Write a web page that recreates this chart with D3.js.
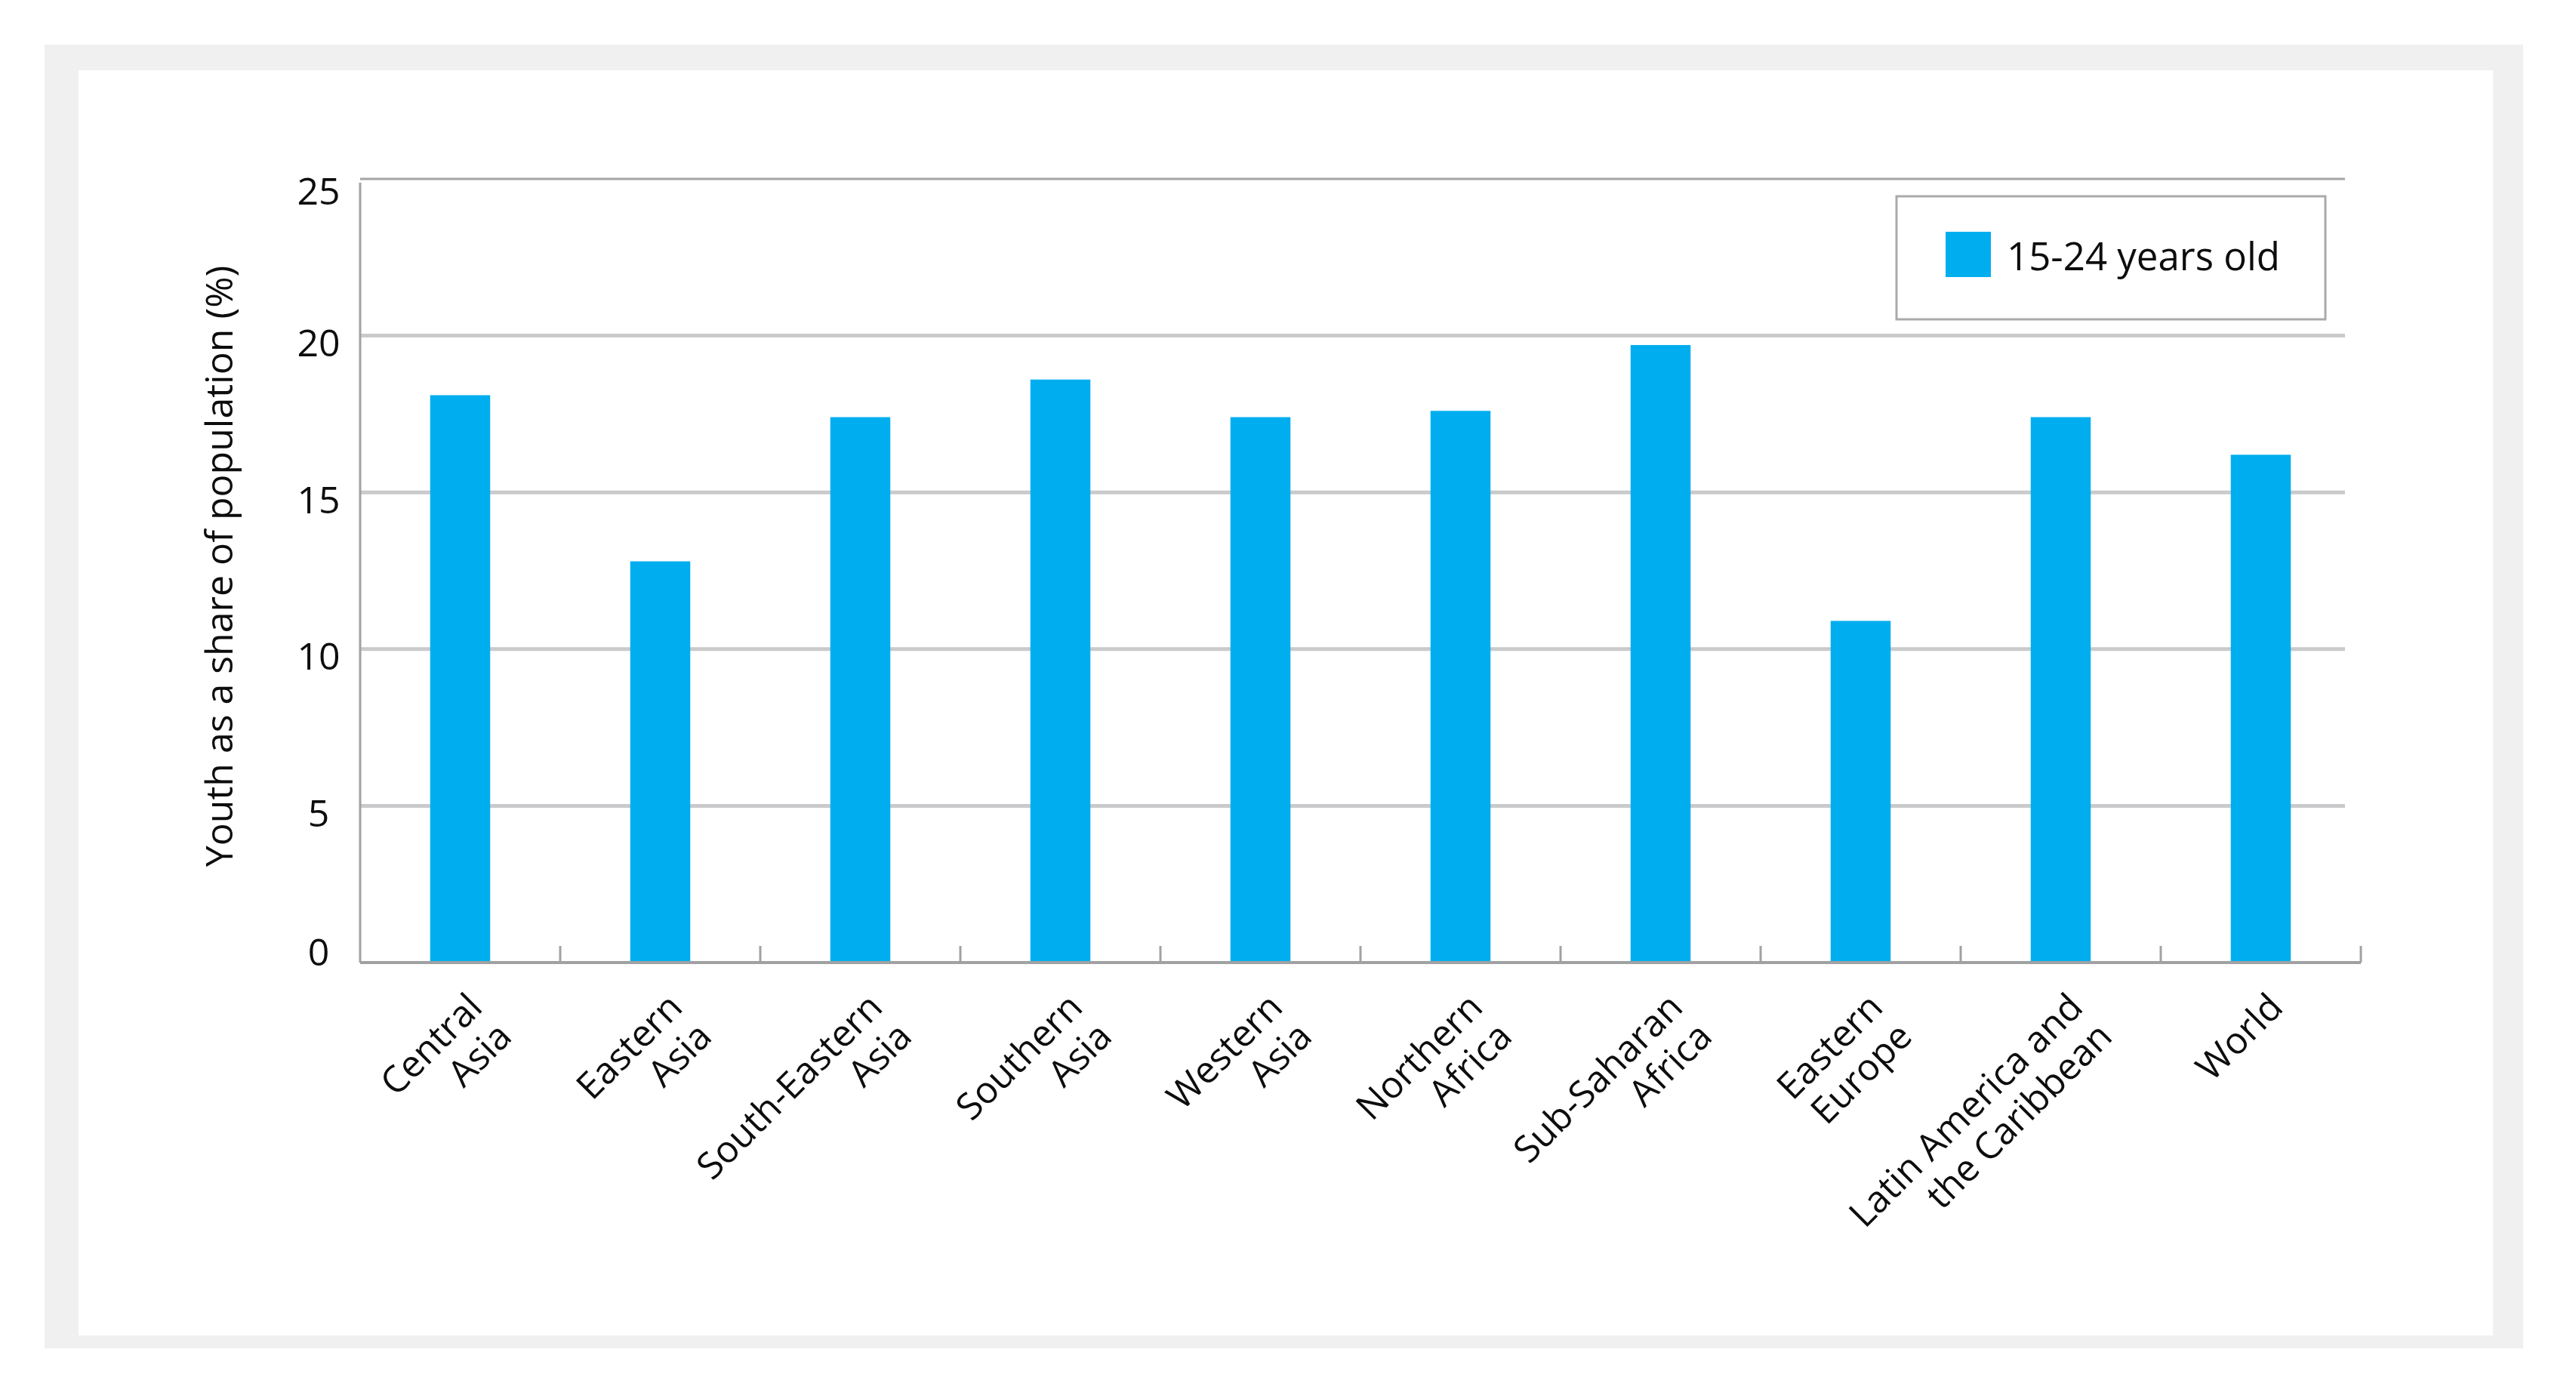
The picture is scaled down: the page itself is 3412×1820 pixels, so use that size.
<!DOCTYPE html>
<html>
<head>
<meta charset="utf-8">
<script src="https://cdn.jsdelivr.net/npm/d3@7"></script>
<style>
  html, body { margin: 0; padding: 0; background: #ffffff; }
  svg { display: block; }
</style>
</head>
<body>
<svg id="chart" width="3412" height="1820"></svg>
<script>
// ---- data ----
const categories = [
  "Central Asia", "Eastern Asia", "South-Eastern Asia", "Southern Asia",
  "Western Asia", "Northern Africa", "Sub-Saharan Africa", "Eastern Europe",
  "Latin America and the Caribbean", "World"
];
const categoryLines = [
  ["Central", "Asia"], ["Eastern", "Asia"], ["South-Eastern", "Asia"],
  ["Southern", "Asia"], ["Western", "Asia"], ["Northern", "Africa"],
  ["Sub-Saharan", "Africa"], ["Eastern", "Europe"],
  ["Latin America and", "the Caribbean"], ["World"]
];
const youthShare = [18.1, 12.8, 17.4, 18.6, 17.4, 17.6, 19.7, 10.9, 17.4, 16.2];
const seriesName = "15-24 years old";
const yTicks = [0, 5, 10, 15, 20, 25];
const yTitle = "Youth as a share of population (%)";

// ---- layout ----
const svg = d3.select("#chart");
const FONT = "'Open Sans', 'DejaVu Sans', sans-serif";
const BAR = "#00AEEF";
const TXT = "#0d0d0d";

// page frame
svg.append("rect").attr("x", 59).attr("y", 59).attr("width", 3342 - 59).attr("height", 1786 - 59).attr("fill", "#f0f0f0");
svg.append("rect").attr("x", 104).attr("y", 93).attr("width", 3302 - 104).attr("height", 1769 - 93).attr("fill", "#ffffff");

const x0 = 477, x1 = 3127, gridEnd = 3106;
const x = d3.scaleBand().domain(categories).range([x0, x1]).paddingInner(0.7).paddingOuter(0.35);
const y = d3.scaleLinear().domain([0, 25]).range([1275, 237]);

// gridlines
svg.append("g").selectAll("line.grid").data(yTicks.filter(d => d > 0)).join("line")
  .attr("class", "grid")
  .attr("x1", x0).attr("x2", gridEnd)
  .attr("y1", d => y(d)).attr("y2", d => y(d))
  .attr("stroke", d => d === 25 ? "#a3a4a6" : "#c9cacc")
  .attr("stroke-width", d => d === 25 ? 3 : 5);

// bars
svg.append("g").selectAll("rect").data(categories).join("rect")
  .attr("x", d => x(d))
  .attr("width", x.bandwidth())
  .attr("y", (d, i) => y(youthShare[i]))
  .attr("height", (d, i) => y(0) - y(youthShare[i]))
  .attr("fill", BAR);

// y axis line
svg.append("line").attr("x1", x0).attr("x2", x0).attr("y1", y(25) + 5).attr("y2", y(0))
  .attr("stroke", "#a0a1a3").attr("stroke-width", 3);

// baseline + ticks
svg.append("line").attr("x1", x0).attr("x2", x1).attr("y1", y(0)).attr("y2", y(0))
  .attr("stroke", "#a0a1a3").attr("stroke-width", 4);
const boundaries = d3.range(1, categories.length + 1).map(i => x0 + i * x.step());
svg.append("g").selectAll("line").data(boundaries).join("line")
  .attr("x1", d => d).attr("x2", d => d)
  .attr("y1", y(0)).attr("y2", y(0) - 22)
  .attr("stroke", "#a0a1a3").attr("stroke-width", 3);

// y tick labels
svg.append("g").selectAll("text").data(yTicks).join("text")
  .attr("x", 422)
  .attr("y", d => y(d) + (d === 0 ? -14 : (d === 25 ? 16 : 10)))
  .attr("dy", "0.35em")
  .attr("text-anchor", "middle")
  .attr("font-family", FONT).attr("font-size", 50).attr("fill", TXT)
  .text(d => d);

// y title
svg.append("text")
  .attr("transform", `translate(308, 750) rotate(-90)`)
  .attr("text-anchor", "middle")
  .attr("font-family", FONT).attr("font-size", 50).attr("fill", TXT)
  .text(yTitle);

// x labels
const xl = svg.append("g").selectAll("text").data(categories).join("text")
  .attr("transform", d => `translate(${x(d) + x.bandwidth() / 2 + 32}, ${y(0) + 62}) rotate(-45)`)
  .attr("text-anchor", "end")
  .attr("font-family", FONT).attr("font-size", 49).attr("fill", TXT);
xl.each(function(d, i) {
  const t = d3.select(this);
  categoryLines[i].forEach((ln, j) => {
    t.append("tspan").attr("x", 0).attr("dy", j === 0 ? 0 : "1.12em").text(ln);
  });
});

// legend
const lg = svg.append("g");
lg.append("rect").attr("x", 2512).attr("y", 260).attr("width", 3080 - 2512).attr("height", 423 - 260)
  .attr("fill", "#ffffff").attr("stroke", "#a9aaac").attr("stroke-width", 3);
lg.append("rect").attr("x", 2577).attr("y", 307).attr("width", 60).attr("height", 60).attr("fill", BAR);
lg.append("text").attr("x", 2658).attr("y", 358)
  .attr("font-family", FONT).attr("font-size", 51).attr("fill", TXT)
  .text(seriesName);
</script>
</body>
</html>
